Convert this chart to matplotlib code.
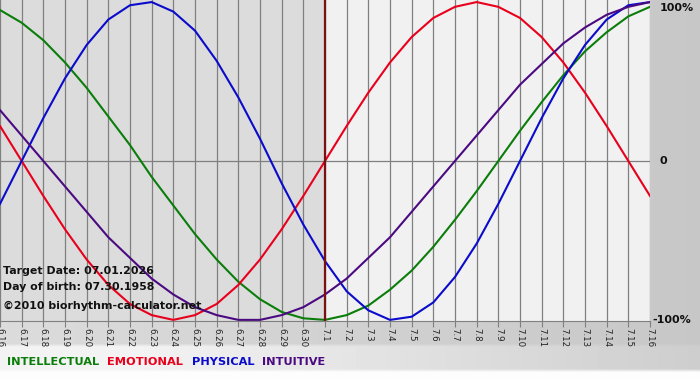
"""Biorhythm chart, 06.16 - 07.16, target date 07.01.2026."""

import matplotlib

matplotlib.use("Agg")

import matplotlib.pyplot as plt
import numpy as np

W, H = 700, 380

dates = [
    "6.16", "6.17", "6.18", "6.19", "6.20", "6.21", "6.22", "6.23", "6.24",
    "6.25", "6.26", "6.27", "6.28", "6.29", "6.30", "7.1", "7.2", "7.3",
    "7.4", "7.5", "7.6", "7.7", "7.8", "7.9", "7.10", "7.11", "7.12", "7.13",
    "7.14", "7.15", "7.16",
]
target_label = "7.1"

intellectual = [
    0.95, 0.87, 0.76, 0.62, 0.46, 0.28, 0.10, -0.10, -0.28, -0.46, -0.62,
    -0.76, -0.87, -0.95, -0.99, -1.00, -0.97, -0.91, -0.81, -0.69, -0.54,
    -0.37, -0.19, 0.00, 0.19, 0.37, 0.54, 0.69, 0.81, 0.91, 0.97,
]
emotional = [
    0.22, 0.00, -0.22, -0.43, -0.62, -0.78, -0.90, -0.97, -1.00, -0.97, -0.90,
    -0.78, -0.62, -0.43, -0.22, 0.00, 0.22, 0.43, 0.62, 0.78, 0.90, 0.97,
    1.00, 0.97, 0.90, 0.78, 0.62, 0.43, 0.22, 0.00, -0.22,
]
physical = [
    -0.27, 0.00, 0.27, 0.52, 0.73, 0.89, 0.98, 1.00, 0.94, 0.82, 0.63, 0.40,
    0.14, -0.14, -0.40, -0.63, -0.82, -0.94, -1.00, -0.98, -0.89, -0.73,
    -0.52, -0.27, 0.00, 0.27, 0.52, 0.73, 0.89, 0.98, 1.00,
]
intuitive = [
    0.32, 0.16, 0.00, -0.16, -0.32, -0.48, -0.61, -0.74, -0.84, -0.92, -0.97,
    -1.00, -1.00, -0.97, -0.92, -0.84, -0.74, -0.61, -0.48, -0.32, -0.16,
    0.00, 0.16, 0.32, 0.48, 0.61, 0.74, 0.84, 0.92, 0.97, 1.00,
]

series = [
    ("INTELLECTUAL", intellectual, "#0a7d0a"),
    ("EMOTIONAL", emotional, "#e8001c"),
    ("PHYSICAL", physical, "#0b0bcc"),
    ("INTUITIVE", intuitive, "#4b0a82"),
]
info_lines = [
    "Target Date: 07.01.2026",
    "Day of birth: 07.30.1958",
    "\u00a92010 biorhythm-calculator.net",
]
right_labels = [("100%", 1.0), ("0", 0.0), ("-100%", -1.0)]


def fx(px):
    return px / W


def fy(py):
    return 1 - py / H


fig = plt.figure(figsize=(W / 100, H / 100), dpi=100)

# figure background: grey gradient with a light strip behind the legend
bg = fig.add_axes([0, 0, 1, 1], zorder=-10)
gx = np.linspace(0, 1, 200)
base = 0.86 - 0.08 * gx
img = np.tile(base, (120, 1))
rows = np.linspace(0, H, 120)
strip = (rows > 345) & (rows < 372)
img[strip] = np.clip(0.95 - 0.18 * np.clip(gx - 0.2, 0, None), 0, 1)
img[rows >= 372] = 0.99
bg.imshow(img, cmap="gray", vmin=0, vmax=1, aspect="auto",
          extent=[0, 1, 1, 0], interpolation="bilinear")
bg.set_xlim(0, 1)
bg.set_ylim(1, 0)
bg.axis("off")

x = np.arange(len(dates))
target = dates.index(target_label)

ax = fig.add_axes([0, fy(321), fx(650), 321 / H])
ax.set_xlim(0, len(dates) - 1)
ax.set_ylim(-1.007, 1.013)
ax.axvspan(0, target, color="#dcdcdc", zorder=0)
ax.axvspan(target, len(dates) - 1, color="#f1f1f1", zorder=0)
for xi in x:
    ax.axvline(xi, color="#808080", lw=0.9, zorder=1)
ax.axhline(0, color="#808080", lw=0.9, zorder=1)
ax.axvline(target, color="#7a1010", lw=1.6, zorder=3)

for name, vals, color in series:
    ax.plot(x, vals, color=color, lw=1.5, zorder=2)

for s in ["top", "left", "right"]:
    ax.spines[s].set_visible(False)
ax.spines["bottom"].set_color("#808080")
ax.set_yticks([])
ax.set_xticks(x)
ax.set_xticklabels(dates, rotation=270, fontsize=6.2, color="#222222")
ax.tick_params(axis="x", length=4, width=0.8, color="#808080", pad=1)

for i, line in enumerate(info_lines):
    ypix = [271, 287, 306][i]
    fig.text(fx(3), fy(ypix), line, fontsize=7.9, fontweight="bold",
             color="#111111", va="center", ha="left", zorder=5)

for label, v in right_labels:
    ypix = 161 - 159 * v
    ypix = min(max(ypix, 8), 321)
    xpix = 652 if label.startswith("-") else 660
    fig.text(fx(xpix), fy(ypix), label, fontsize=8, fontweight="bold",
             color="#111111", va="center", ha="left")

xpos = [7, 107, 192, 262]
for (name, vals, color), xp in zip(series, xpos):
    fig.text(fx(xp), fy(362), name, fontsize=8.2, fontweight="bold",
             color=color, va="center", ha="left")

fig.savefig("out.png", dpi=100)
